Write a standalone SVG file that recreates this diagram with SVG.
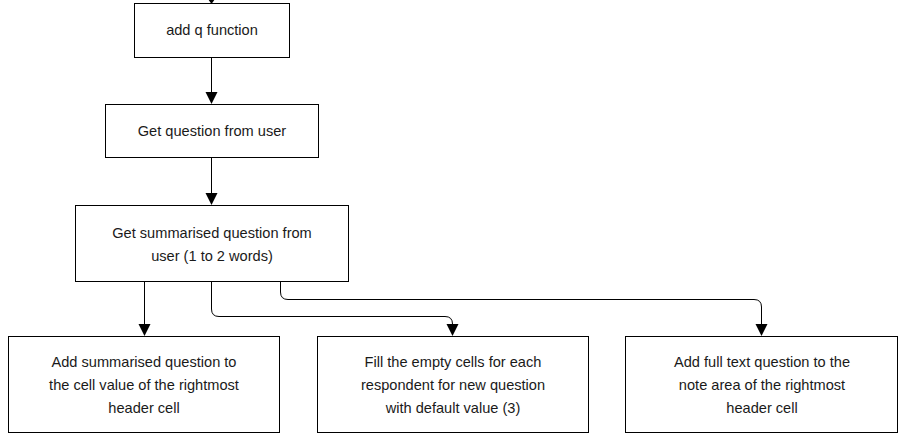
<svg xmlns="http://www.w3.org/2000/svg" width="905" height="437" viewBox="0 0 905 437">
<style>
.n rect{fill:#fff;stroke:#000;stroke-width:1}
.n text{font-family:"Liberation Sans",Arial,sans-serif;font-size:14.6px;fill:#1a1a1a;text-anchor:middle}
.c .l{fill:none;stroke:#000;stroke-width:1}
.c .h{fill:#000;stroke:none}
</style>
<g class="c">
<path class="l" d="M211.5,-2 V0"/>
<path class="h" d="M208,-1 h7 l-3.5,5 z"/>
<path class="l" d="M211.5,58 V92"/>
<path class="h" d="M205.5,92 h12 l-6,12 z"/>
<path class="l" d="M211.5,157 V193"/>
<path class="h" d="M205.5,193 h12 l-6,12 z"/>
<path class="l" d="M144.5,281 V324"/>
<path class="h" d="M138.5,324 h12 l-6,12 z"/>
<path class="l" d="M211.5,281 V309 Q211.5,316.5 219,316.5 H445 Q452.5,316.5 452.5,324"/>
<path class="h" d="M446.5,324 h12 l-6,12 z"/>
<path class="l" d="M280.5,281 V292 Q280.5,299.5 288,299.5 H754 Q761.5,299.5 761.5,307 V324"/>
<path class="h" d="M755.5,324 h12 l-6,12 z"/>
</g>
<g id="n1" class="n"><rect x="134.5" y="3.5" width="155" height="54"/><text x="212" y="35">add q function</text></g>
<g id="n2" class="n"><rect x="105.5" y="104.5" width="213" height="53"/><text x="212" y="136">Get question from user</text></g>
<g id="n3" class="n"><rect x="75.5" y="205.5" width="273" height="76"/><text x="212" y="237.5">Get summarised question from</text><text x="212" y="260.5">user (1 to 2 words)</text></g>
<g id="n4" class="n"><rect x="8.5" y="336.5" width="271" height="96"/><text x="144" y="366.5">Add summarised question to</text><text x="144" y="389.5">the cell value of the rightmost</text><text x="144" y="412.5">header cell</text></g>
<g id="n5" class="n"><rect x="317.5" y="336.5" width="271" height="96"/><text x="453" y="366.5">Fill the empty cells for each</text><text x="453" y="389.5">respondent for new question</text><text x="453" y="412.5">with default value (3)</text></g>
<g id="n6" class="n"><rect x="625.5" y="336.5" width="272" height="96"/><text x="762" y="366.5">Add full text question to the</text><text x="762" y="389.5">note area of the rightmost</text><text x="762" y="412.5">header cell</text></g>
</svg>
